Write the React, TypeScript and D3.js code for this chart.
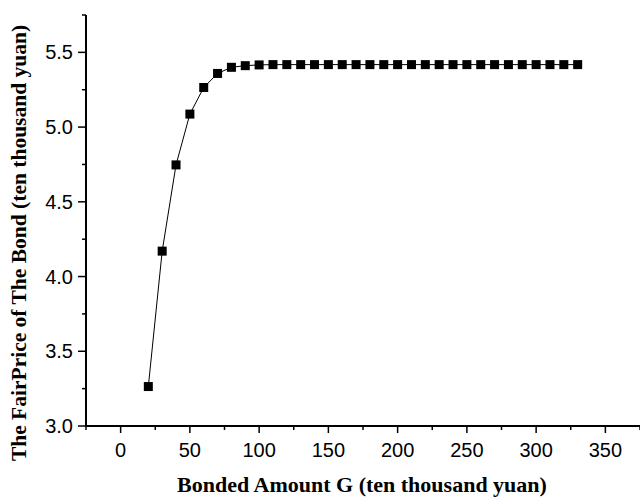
import { useEffect, useRef } from "react"
import * as d3 from "d3"

const amounts = [20, 30, 40, 50, 60, 70, 80, 90, 100, 110, 120, 130, 140, 150, 160, 170, 180, 190, 200, 210, 220, 230, 240, 250, 260, 270, 280, 290, 300, 310, 320, 330]
const prices = [3.264, 4.17, 4.747, 5.087, 5.265, 5.359, 5.4, 5.411, 5.416, 5.418, 5.418, 5.418, 5.418, 5.418, 5.418, 5.418, 5.418, 5.418, 5.418, 5.418, 5.418, 5.418, 5.418, 5.418, 5.418, 5.418, 5.418, 5.418, 5.418, 5.418, 5.418, 5.418]
const xMajor = [0, 50, 100, 150, 200, 250, 300, 350]
const xMinor = [-25, 25, 75, 125, 175, 225, 275, 325, 375]
const yMajor = [3.0, 3.5, 4.0, 4.5, 5.0, 5.5]
const yMinor = [3.25, 3.75, 4.25, 4.75, 5.25, 5.75]

const xTitle = "Bonded Amount G (ten thousand yuan)"
const yTitle = "The FairPrice of The Bond (ten thousand yuan)"

export default function App() {
  const svgRef = useRef<SVGSVGElement>(null)

  useEffect(() => {
    const svg = d3.select(svgRef.current)
    svg.selectAll("*").remove()

    const x = d3.scaleLinear().domain([-25, 375]).range([86, 640])
    const y = d3.scaleLinear().domain([3.0, 5.75]).range([426, 15])

    const data = amounts.map((a, i) => ({ a, p: prices[i] }))

    // axis lines
    svg.append("line")
      .attr("x1", x(-25)).attr("x2", x(375))
      .attr("y1", y(3)).attr("y2", y(3))
      .attr("stroke", "#000").attr("stroke-width", 2)
    svg.append("line")
      .attr("x1", x(-25)).attr("x2", x(-25))
      .attr("y1", y(3)).attr("y2", y(5.75))
      .attr("stroke", "#000").attr("stroke-width", 2)

    // x ticks
    svg.selectAll(".xmaj").data(xMajor).join("line")
      .attr("x1", d => x(d)).attr("x2", d => x(d))
      .attr("y1", y(3)).attr("y2", y(3) + 7)
      .attr("stroke", "#000").attr("stroke-width", 1.5)
    svg.selectAll(".xmin").data(xMinor).join("line")
      .attr("x1", d => x(d)).attr("x2", d => x(d))
      .attr("y1", y(3)).attr("y2", y(3) + 4)
      .attr("stroke", "#000").attr("stroke-width", 1.5)
    svg.selectAll(".xlab").data(xMajor).join("text")
      .attr("x", d => x(d)).attr("y", 457)
      .attr("text-anchor", "middle")
      .attr("font-family", "'Liberation Sans', Arial, sans-serif")
      .attr("font-size", 20)
      .text(d => String(d))

    // y ticks
    svg.selectAll(".ymaj").data(yMajor).join("line")
      .attr("x1", x(-25) - 8).attr("x2", x(-25))
      .attr("y1", d => y(d)).attr("y2", d => y(d))
      .attr("stroke", "#000").attr("stroke-width", 1.5)
    svg.selectAll(".ymin").data(yMinor).join("line")
      .attr("x1", x(-25) - 4).attr("x2", x(-25))
      .attr("y1", d => y(d)).attr("y2", d => y(d))
      .attr("stroke", "#000").attr("stroke-width", 1.5)
    svg.selectAll(".ylab").data(yMajor).join("text")
      .attr("x", 73).attr("y", d => y(d) + 7)
      .attr("text-anchor", "end")
      .attr("font-family", "'Liberation Sans', Arial, sans-serif")
      .attr("font-size", 20)
      .text(d => d3.format(".1f")(d))

    // titles
    svg.append("text")
      .attr("x", 362).attr("y", 492)
      .attr("text-anchor", "middle")
      .attr("font-family", "'Liberation Serif', 'Times New Roman', serif")
      .attr("font-weight", "bold")
      .attr("font-size", 22)
      .text(xTitle)
    svg.append("text")
      .attr("transform", "translate(26,243) rotate(-90)")
      .attr("text-anchor", "middle")
      .attr("font-family", "'Liberation Serif', 'Times New Roman', serif")
      .attr("font-weight", "bold")
      .attr("font-size", 21.5)
      .text(yTitle)

    // series
    const line = d3.line<{ a: number; p: number }>()
      .x(d => x(d.a))
      .y(d => y(d.p))
    svg.append("path")
      .datum(data)
      .attr("d", line)
      .attr("fill", "none")
      .attr("stroke", "#000")
      .attr("stroke-width", 1)

    const s = 9
    svg.selectAll(".pt").data(data).join("rect")
      .attr("x", d => x(d.a) - s / 2)
      .attr("y", d => y(d.p) - s / 2)
      .attr("width", s).attr("height", s)
      .attr("fill", "#000")
  }, [])

  return (
    <svg
      ref={svgRef}
      width={640}
      height={497}
      style={{ position: "absolute", left: 0, top: 0, background: "#fff" }}
    />
  )
}
